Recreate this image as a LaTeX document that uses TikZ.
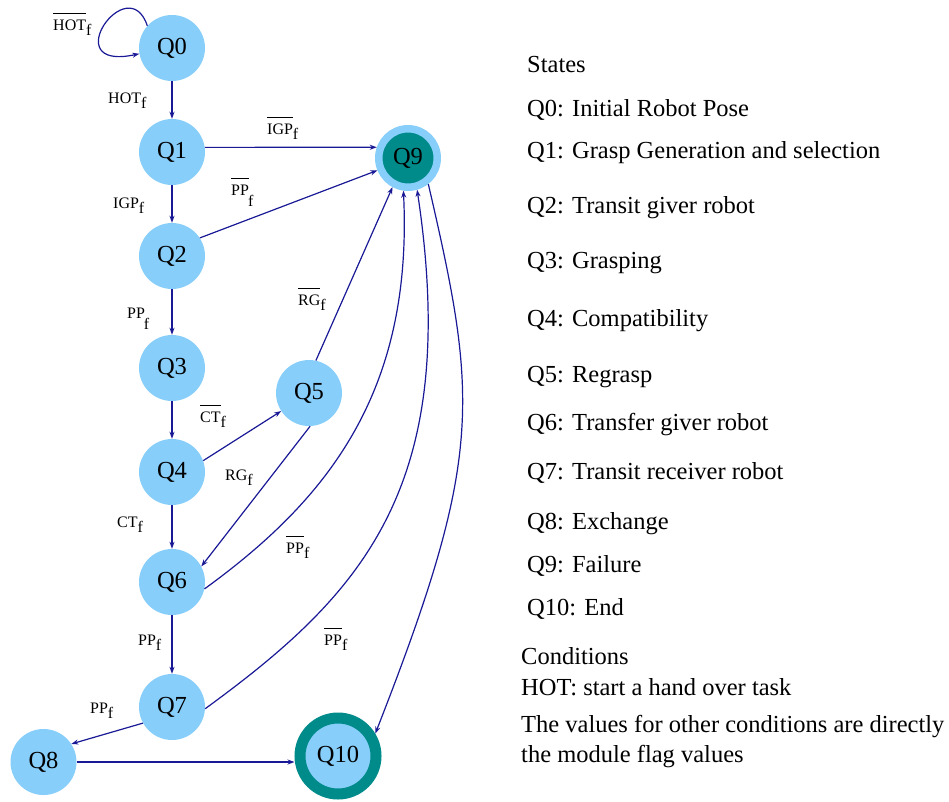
\documentclass[tikz,border=0pt]{standalone}
\usepackage{fontspec}
\setmainfont{Liberation Serif}
\usetikzlibrary{arrows.meta}
\definecolor{stateblue}{HTML}{87CEFA}
\definecolor{failteal}{HTML}{008B8B}
\definecolor{edgeblue}{RGB}{25,25,150}
\newcommand\negbar[1]{\setbox0\hbox{#1}\rlap{\rule[16.5pt]{\wd0}{0.9pt}}\box0}
\newcommand\fsub{\raisebox{-5pt}{f}}
\newcommand\fdeep{\kern-1pt\raisebox{-11pt}{f}}
\begin{document}
\begin{tikzpicture}[x=1pt,y=-1pt,
  state/.style={circle, fill=stateblue, minimum size=66pt, inner sep=0pt, font=\fontsize{24.5}{28}\selectfont},
  failstate/.style={circle, fill=failteal, draw=stateblue, line width=7.5pt, minimum size=58.5pt, inner sep=0pt, font=\fontsize{24.5}{28}\selectfont},
  endstate/.style={circle, fill=stateblue, draw=failteal, line width=11pt, minimum size=76pt, inner sep=0pt, font=\fontsize{24.5}{28}\selectfont},
  trans/.style={draw=edgeblue, line width=1.2pt, -{Stealth[length=7pt,width=5pt]}},
  lab/.style={anchor=base west, inner sep=0pt, font=\fontsize{16}{19}\selectfont},
  legend/.style={anchor=base west, inner sep=0pt, font=\fontsize{24.5}{28}\selectfont}]
\useasboundingbox (0,0) rectangle (949,801);
% states
\node[state] (Q0) at (172,48) {Q0};
\node[state] (Q1) at (172,152) {Q1};
\node[state] (Q2) at (172,256) {Q2};
\node[state] (Q3) at (172,368) {Q3};
\node[state] (Q4) at (172,472) {Q4};
\node[state] (Q5) at (309,393) {Q5};
\node[state] (Q6) at (172,582) {Q6};
\node[state] (Q7) at (172,707) {Q7};
\node[state] (Q8) at (43.5,762) {Q8};
\node[failstate] (Q9) at (408,158) {Q9};
\node[endstate] (Q10) at (338,756) {Q10};
% transitions
\draw[trans] (Q0.138) .. controls (128,-32) and (55,72) .. (Q0.190);
\draw[trans] (Q0.south) -- (Q1.north);
\draw[trans] (Q1.8) -- (Q9.161);
\draw[trans] (Q1.south) -- (Q2.north);
\draw[trans] (Q2.33) -- (Q9.202);
\draw[trans] (Q2.south) -- (Q3.north);
\draw[trans] (Q3.south) -- (Q4.north);
\draw[trans] (Q4.20) -- (Q5.213);
\draw[trans] (Q5.78) -- (Q9.242);
\draw[trans] (Q5.-88) -- (Q6.28);
\draw[trans] (Q4.south) -- (Q6.north);
\draw[trans] (Q6.-12) .. controls (327,500) and (413,393) .. (Q9.262);
\draw[trans] (Q6.south) -- (Q7.north);
\draw[trans] (Q7.-3) .. controls (361,595) and (462,488) .. (Q9.286);
\draw[trans] (Q7.209) -- (Q8.33);
\draw[trans] (Q8.east) -- (Q8.east -| Q10.west);
\draw[trans] (Q9.308) .. controls (478,399) and (484,456) .. (Q10.31);
% labels
\node[lab] (l00) at (53,30) {\negbar{HOT}\fsub};
\node[lab] (l01) at (108,103) {HOT\fsub};
\node[lab] (l12) at (113,208) {IGP\fsub};
\node[lab] (l19) at (267,134) {\negbar{IGP}\fsub};
\node[lab] (l29) at (231,195) {\negbar{PP}\fdeep};
\node[lab] (l23) at (127,318) {PP\fdeep};
\node[lab] (l59) at (298,305) {\negbar{RG}\fsub};
\node[lab] (l45) at (200,422) {\negbar{CT}\fsub};
\node[lab] (l56) at (225,480) {RG\fsub};
\node[lab] (l46) at (117,527) {CT\fsub};
\node[lab] (l69) at (286,553) {\negbar{PP}\fsub};
\node[lab] (l67) at (138,645) {PP\fsub};
\node[lab] (l79) at (324,645) {\negbar{PP}\fsub};
\node[lab] (l78) at (90,713) {PP\fsub};
% legend
\node[legend] (tStates) at (527,72) {States};
\node[legend] (t0) at (527,116) {Q0: Initial Robot Pose};
\node[legend] (t1) at (527,158) {Q1: Grasp Generation and selection};
\node[legend] (t2) at (527,213) {Q2: Transit giver robot};
\node[legend] (t3) at (527,268) {Q3: Grasping};
\node[legend] (t4) at (527,326) {Q4: Compatibility};
\node[legend] (t5) at (527,382) {Q5: Regrasp};
\node[legend] (t6) at (527,430) {Q6: Transfer giver robot};
\node[legend] (t7) at (527,479) {Q7: Transit receiver robot};
\node[legend] (t8) at (527,529) {Q8: Exchange};
\node[legend] (t9) at (527,572) {Q9: Failure};
\node[legend] (t10) at (527,615) {Q10: End};
\node[legend] (tCond) at (521,664) {Conditions};
\node[legend] (tHOT) at (521,695) {HOT: start a hand over task};
\node[legend] (tVal1) at (521,732) {The values for other conditions are directly};
\node[legend] (tVal2) at (521,762) {the module flag values};
\end{tikzpicture}
\end{document}
